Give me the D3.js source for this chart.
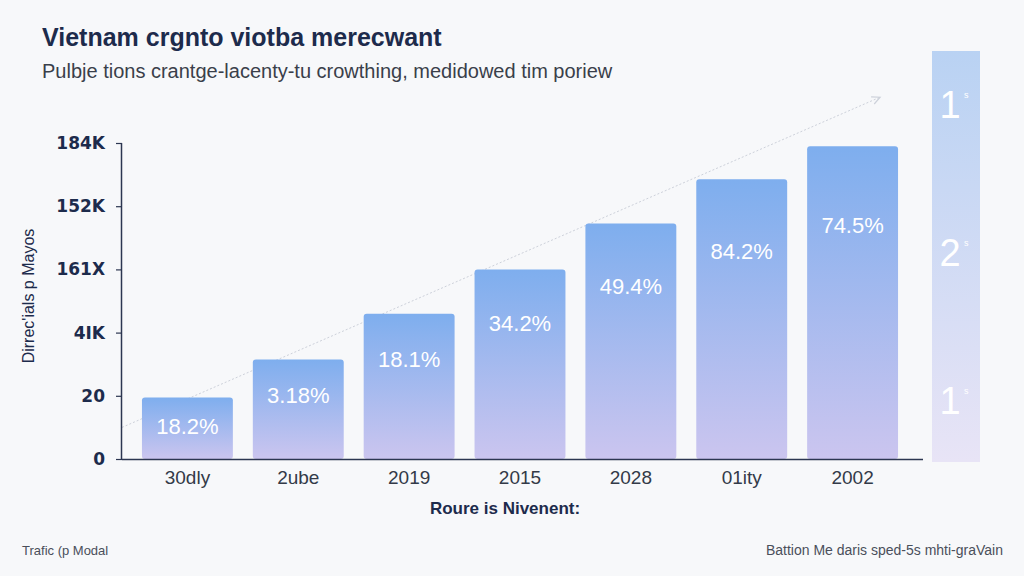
<!DOCTYPE html>
<html>
<head>
<meta charset="utf-8">
<script src="https://cdn.jsdelivr.net/npm/d3@7"></script>
<style>
  body { margin: 0; background: #f7f8fa; }
  svg { display: block; }
</style>
</head>
<body>
<div id="chart"></div>
<script>
// chart data
var categories = ["30dly", "2ube", "2019", "2015", "2028", "01ity", "2002"];
var values = [39, 63, 92, 120, 149, 177, 198];
var barLabels = ["18.2%", "3.18%", "18.1%", "34.2%", "49.4%", "84.2%", "74.5%"];
var tickValues = [0, 40, 80, 120, 160, 200];
var tickLabels = ["0", "20", "4IK", "161X", "152K", "184K"];
var trendFrac = [0, 0.95];
var trendVals = [20, 229];
var sideLabels = ["1", "2", "1"];
var sidePos = [0.13, 0.49, 0.85];

var W = 1024, H = 576;
var margin = {top: 143, right: 104, bottom: 117, left: 122};
var width = W - margin.left - margin.right;
var height = H - margin.top - margin.bottom;

var svg = d3.select("#chart").append("svg")
    .attr("width", W)
    .attr("height", H)
    .style("font-family", "'Liberation Sans', 'DejaVu Sans', sans-serif");

var defs = svg.append("defs");
var grad = defs.append("linearGradient")
    .attr("id", "barGrad")
    .attr("x1", 0).attr("y1", 0).attr("x2", 0).attr("y2", 1);
grad.append("stop").attr("offset", "0%").attr("stop-color", "#7eaeee");
grad.append("stop").attr("offset", "100%").attr("stop-color", "#cbc5ef");

var sideGrad = defs.append("linearGradient")
    .attr("id", "sideGrad")
    .attr("x1", 0).attr("y1", 0).attr("x2", 0).attr("y2", 1);
sideGrad.append("stop").attr("offset", "0%").attr("stop-color", "#b9d2f3");
sideGrad.append("stop").attr("offset", "100%").attr("stop-color", "#e8e4f6");

svg.append("rect").attr("width", W).attr("height", H).attr("fill", "#f7f8fa");

// titles
svg.append("text")
    .attr("x", 42).attr("y", 46)
    .attr("font-size", 25).attr("font-weight", "bold")
    .attr("fill", "#1d2b4c")
    .text("Vietnam crgnto viotba merecwant");

svg.append("text")
    .attr("x", 42).attr("y", 78)
    .attr("font-size", 20)
    .attr("fill", "#3a3f4a")
    .text("Pulbje tions crantge-lacenty-tu crowthing, medidowed tim poriew");

var g = svg.append("g")
    .attr("transform", "translate(" + margin.left + "," + margin.top + ")");

var x = d3.scaleBand()
    .domain(categories)
    .range([0, width - 2])
    .paddingInner(0.18)
    .paddingOuter(0.18);

var y = d3.scaleLinear()
    .domain([0, 200])
    .range([height, 0]);

var xt = d3.scaleLinear().domain([0, 1]).range([0, width]);

// trend arrow
var trend = trendFrac.map(function(f, i) { return [xt(f), y(trendVals[i])]; });
g.append("line")
    .attr("x1", trend[0][0]).attr("y1", trend[0][1])
    .attr("x2", trend[1][0]).attr("y2", trend[1][1])
    .attr("stroke", "#cdd1da")
    .attr("stroke-width", 1)
    .attr("stroke-dasharray", "2,2");
var ang = Math.atan2(trend[1][1] - trend[0][1], trend[1][0] - trend[0][0]);
var ah = 9;
g.append("path")
    .attr("d", "M" + (trend[1][0] - ah * Math.cos(ang - 0.45)) + "," + (trend[1][1] - ah * Math.sin(ang - 0.45)) +
               "L" + trend[1][0] + "," + trend[1][1] +
               "L" + (trend[1][0] - ah * Math.cos(ang + 0.45)) + "," + (trend[1][1] - ah * Math.sin(ang + 0.45)))
    .attr("fill", "none")
    .attr("stroke", "#cdd1da")
    .attr("stroke-width", 1.2);

// bars
g.selectAll(".bar")
    .data(values)
    .enter().append("rect")
    .attr("class", "bar")
    .attr("x", function(d, i) { return x(categories[i]); })
    .attr("y", function(d) { return y(d); })
    .attr("width", x.bandwidth())
    .attr("height", function(d) { return height - y(d); })
    .attr("rx", 3)
    .attr("fill", "url(#barGrad)");

g.selectAll(".barLabel")
    .data(values)
    .enter().append("text")
    .attr("class", "barLabel")
    .attr("x", function(d, i) { return x(categories[i]) + x.bandwidth() / 2; })
    .attr("y", function(d) { return y(d) + 0.2 * (height - y(d)) + 18; })
    .attr("text-anchor", "middle")
    .attr("dominant-baseline", "middle")
    .attr("font-size", 22)
    .attr("fill", "#ffffff")
    .style("font-family", "'Liberation Sans', sans-serif")
    .text(function(d, i) { return barLabels[i]; });

// y axis
var yAxis = g.append("g")
    .call(d3.axisLeft(y)
        .tickValues(tickValues)
        .tickSize(6)
        .tickPadding(11)
        .tickFormat(function(d, i) { return tickLabels[i]; }));
yAxis.select(".domain").attr("stroke", "#2c3651").attr("stroke-width", 1.5)
    .attr("d", "M-0.5,0V" + height);
yAxis.selectAll(".tick line").attr("stroke", "#2c3651").attr("stroke-width", 1.2);
yAxis.selectAll(".tick text")
    .attr("font-size", 17).attr("font-weight", "bold")
    .attr("fill", "#1d2b4c")
    .style("font-family", "'DejaVu Sans', sans-serif");

// x axis
var xAxis = g.append("g")
    .attr("transform", "translate(0," + height + ")")
    .call(d3.axisBottom(x).tickSize(0).tickPadding(12));
xAxis.select(".domain").attr("stroke", "#2c3651").attr("stroke-width", 1.5)
    .attr("d", "M0,0.5H" + (width + 3));
xAxis.selectAll(".tick text")
    .attr("font-size", 19)
    .attr("fill", "#333a48")
    .style("font-family", "'Liberation Sans', sans-serif");

// axis titles
svg.append("text")
    .attr("x", 505).attr("y", 514)
    .attr("text-anchor", "middle")
    .attr("font-size", 17).attr("font-weight", "bold")
    .attr("fill", "#1d2b4c")
    .style("font-family", "'Liberation Sans', sans-serif")
    .text("Roure is Nivenent:");

svg.append("text")
    .attr("transform", "translate(34,296) rotate(-90)")
    .attr("text-anchor", "middle")
    .attr("font-size", 16)
    .attr("fill", "#1d2b4c")
    .text("Dirrec'ials p Mayos");

// side panel
var sideY = d3.scaleLinear().domain([0, 1]).range([51, 462]);
svg.append("rect")
    .attr("x", 932).attr("y", sideY(0))
    .attr("width", 48).attr("height", sideY(1) - sideY(0))
    .attr("fill", "url(#sideGrad)");
svg.selectAll(".sideLabel")
    .data(sideLabels)
    .enter().append("text")
    .attr("class", "sideLabel")
    .attr("x", 950)
    .attr("y", function(d, i) { return sideY(sidePos[i]) + 14; })
    .attr("text-anchor", "middle")
    .attr("font-size", 38)
    .attr("font-weight", 300)
    .attr("fill", "#ffffff")
    .text(function(d) { return d; });
svg.selectAll(".sideSup")
    .data(sideLabels)
    .enter().append("text")
    .attr("class", "sideSup")
    .attr("x", 964)
    .attr("y", function(d, i) { return sideY(sidePos[i]) - 6; })
    .attr("font-size", 9)
    .attr("fill", "#ffffff")
    .text("s");

// footer
svg.append("text")
    .attr("x", 22).attr("y", 555)
    .attr("font-size", 13)
    .attr("fill", "#4a4f5a")
    .text("Trafic (p Modal");

svg.append("text")
    .attr("x", 1003).attr("y", 555)
    .attr("text-anchor", "end")
    .attr("font-size", 14)
    .attr("fill", "#4a4f5a")
    .text("Battion Me daris sped-5s mhti-graVain");
</script>
</body>
</html>
